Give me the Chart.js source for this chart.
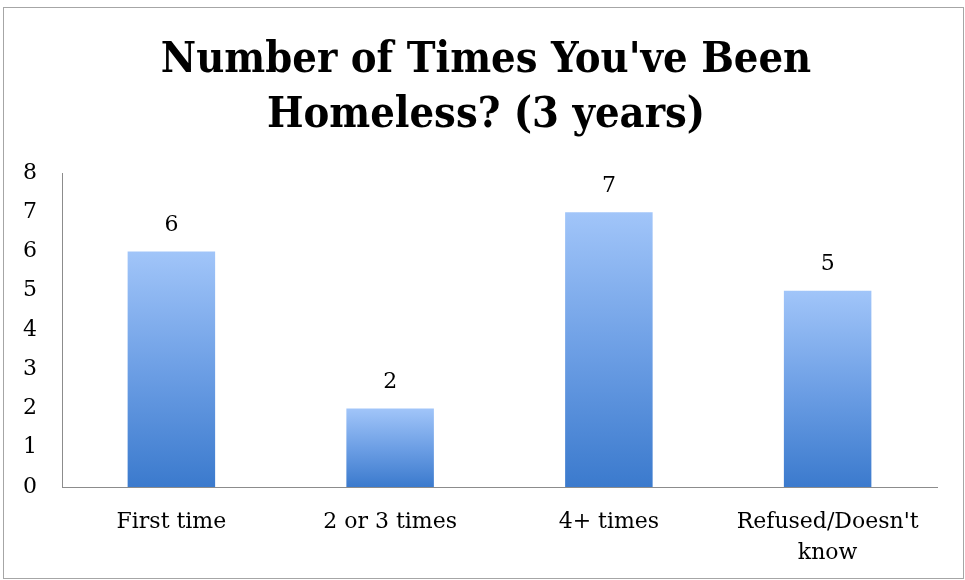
<!DOCTYPE html>
<html>
<head>
<meta charset="utf-8">
<script src="https://cdn.jsdelivr.net/npm/chart.js@4"></script>
<style>
  html, body { margin: 0; padding: 0; background: #fff; }
  #wrap { width: 965px; height: 580px; }
</style>
</head>
<body>
<div id="wrap"><canvas id="chart" width="965" height="580"></canvas></div>
<script>
const categories = ['First time', '2 or 3 times', '4+ times', ["Refused/Doesn't", 'know']];
const counts = [6, 2, 7, 5];
const yTicks = [0, 1, 2, 3, 4, 5, 6, 7, 8];
const titleLines = ["Number of Times You've Been", 'Homeless? (3 years)'];

const serif = "'DejaVu Serif', serif";

// frame around the whole picture + the title (centred on the frame, not on the plot)
const framePlugin = {
    id: 'frame',
    beforeDraw(chart) {
        const ctx = chart.ctx;
        ctx.save();
        ctx.fillStyle = '#fff';
        ctx.fillRect(0, 0, chart.width, chart.height);
        ctx.strokeStyle = '#a6a6a6';
        ctx.lineWidth = 1;
        ctx.strokeRect(3.5, 7.5, 960, 571);

        ctx.fillStyle = '#000';
        ctx.font = "bold 43px 'DejaVu Serif Condensed', 'DejaVu Serif', serif";
        ctx.textAlign = 'center';
        ctx.textBaseline = 'middle';
        titleLines.forEach((line, i) => {
            ctx.fillText(line, 486, 61 + i * 55);
        });
        ctx.restore();
    }
};

// value labels above the bars
const valueLabels = {
    id: 'valueLabels',
    afterDatasetsDraw(chart) {
        const ctx = chart.ctx;
        const meta = chart.getDatasetMeta(0);
        ctx.save();
        ctx.font = '22px ' + serif;
        ctx.fillStyle = '#000';
        ctx.textAlign = 'center';
        ctx.textBaseline = 'middle';
        meta.data.forEach((bar, i) => {
            ctx.fillText(String(counts[i]), bar.x, bar.y - 26);
        });
        ctx.restore();
    }
};

function barGradient(context) {
    const chart = context.chart;
    const { ctx, chartArea, scales } = chart;
    if (!chartArea) return '#6a9ee6';
    const top = scales.y.getPixelForValue(context.raw);
    const bottom = scales.y.getPixelForValue(0);
    const g = ctx.createLinearGradient(0, top, 0, bottom);
    g.addColorStop(0, '#a1c5f9');
    g.addColorStop(0.5, '#6d9fe5');
    g.addColorStop(1, '#3b7acd');
    return g;
}

new Chart(document.getElementById('chart'), {
    type: 'bar',
    data: {
        labels: categories,
        datasets: [{
            data: counts,
            backgroundColor: barGradient,
            borderWidth: 0,
            barPercentage: 0.4,
            categoryPercentage: 1
        }]
    },
    options: {
        responsive: false,
        animation: false,
        layout: { padding: { left: 0, right: 28, top: 173, bottom: 0 } },
        plugins: {
            legend: { display: false },
            tooltip: { enabled: false },
            title: { display: false }
        },
        scales: {
            x: {
                grid: { display: false, drawTicks: false },
                border: { display: true, color: '#8c8c8c', width: 1 },
                ticks: {
                    color: '#000',
                    font: { family: serif, size: 22, lineHeight: 1.4 },
                    padding: 20,
                    autoSkip: false,
                    maxRotation: 0
                },
                afterFit(scale) { scale.height = 93; }
            },
            y: {
                min: 0,
                max: 8,
                afterBuildTicks(scale) { scale.ticks = yTicks.map(v => ({ value: v })); },
                grid: { display: false, drawTicks: false },
                border: { display: true, color: '#8c8c8c', width: 1 },
                ticks: {
                    color: '#000',
                    font: { family: serif, size: 22 },
                    padding: 25
                },
                afterFit(scale) { scale.width = 62; }
            }
        }
    },
    plugins: [framePlugin, valueLabels]
});
</script>
</body>
</html>
